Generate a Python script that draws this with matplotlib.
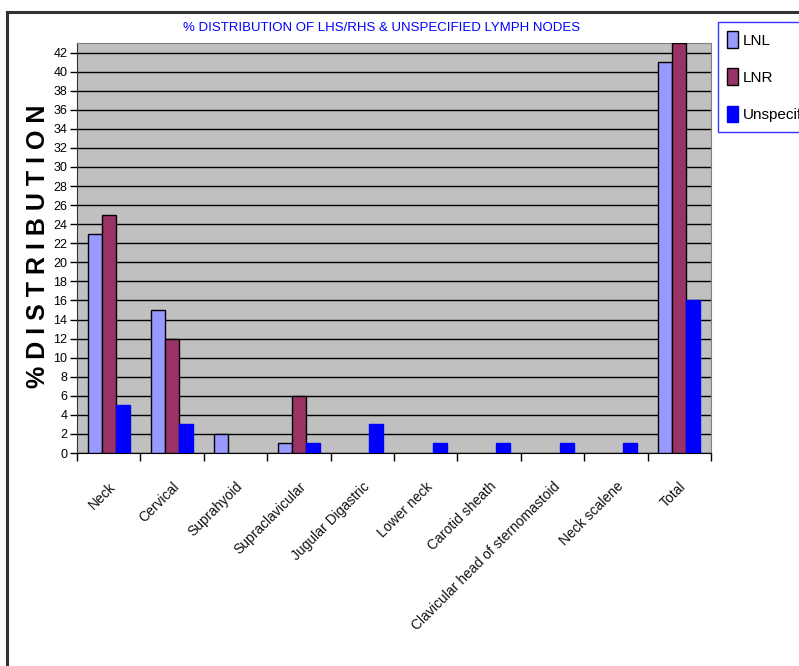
import matplotlib
matplotlib.use("Agg")
import matplotlib.pyplot as plt
import numpy as np
from matplotlib.patches import Rectangle

categories = ["Neck", "Cervical", "Suprahyoid", "Supraclavicular", "Jugular Digastric",
              "Lower neck", "Carotid sheath", "Clavicular head of sternomastoid",
              "Neck scalene", "Total"]
lnl = [23, 15, 2, 1, 0, 0, 0, 0, 0, 41]
lnr = [25, 12, 0, 6, 0, 0, 0, 0, 0, 43]
unspecified = [5, 3, 0, 1, 3, 1, 1, 1, 1, 16]
series_names = ["LNL", "LNR", "Unspecified"]
yticks = list(range(0, 43, 2))

narrow = ["Liberation Sans Narrow", "Liberation Sans", "DejaVu Sans"]

fig = plt.figure(figsize=(7.99, 6.66), dpi=100)
W, H = 799, 666

# outer chart border
fig.patches.append(Rectangle((7 / W, -0.1), 1.2, (666 - 12) / H + 0.1,
                             transform=fig.transFigure, fill=False,
                             edgecolor="#333333", linewidth=2.2))

ax = fig.add_axes([77 / W, (H - 453) / H, (711 - 77) / W, (453 - 43) / H])
ax.set_facecolor("#C0C0C0")

x = np.arange(len(categories))
bw = 0.222
colors = ["#9999FF", "#993366", "#0000FF"]
edges = ["black", "black", "#0000FF"]
for i, (vals, c, e) in enumerate(zip([lnl, lnr, unspecified], colors, edges)):
    lw = [1.0 if v > 0 else 0.0 for v in vals]
    ax.bar(x + (i - 1) * bw, vals, width=bw, color=c, edgecolor=e,
           linewidth=lw, zorder=3, label=series_names[i])

ax.set_xlim(-0.5, len(categories) - 0.5)
ax.set_ylim(0, 43)
ax.set_yticks(yticks)
ax.set_yticklabels([str(t) for t in yticks], family=narrow, fontsize=9)
ax.yaxis.grid(True, color="black", linewidth=1.0, zorder=1)
ax.set_axisbelow(True)
ax.tick_params(axis="y", direction="out", length=5, width=1, pad=2)

ax.set_xticks(np.arange(len(categories) + 1) - 0.5, minor=False)
ax.set_xticklabels([])
ax.tick_params(axis="x", direction="out", length=6, width=1)
for xi, lab in zip(x, categories):
    ax.annotate(lab, xy=(xi, 0), xycoords=("data", "axes fraction"),
                xytext=(0, -19), textcoords="offset points",
                rotation=45, ha="right", va="top", rotation_mode="anchor",
                family=narrow, fontsize=10, color="#111111")

for side in ["top", "right"]:
    ax.spines[side].set_color("#808080")
ax.spines["left"].set_color("#333333")
ax.spines["bottom"].set_color("black")

fig.text(382 / W, 1 - 28 / H, "% DISTRIBUTION OF LHS/RHS & UNSPECIFIED LYMPH NODES",
         ha="center", va="center", color="#0000FF", family=narrow, fontsize=9.5)

fig.text(38 / W, 1 - 246 / H, "% D I S T R I B U T I O N", rotation=90,
         ha="center", va="center", fontsize=18, fontweight="bold", color="black",
         family=["Liberation Sans", "DejaVu Sans"])

leg = fig.legend(loc="upper left", bbox_to_anchor=(718 / W, 1 - 22 / H),
                 bbox_transform=fig.transFigure, frameon=True, fancybox=False,
                 prop={"family": narrow, "size": 11}, handlelength=0.7,
                 handleheight=1.3, labelspacing=1.35, handletextpad=0.3,
                 borderpad=0.6, borderaxespad=0)
leg.get_frame().set_edgecolor("#0000FF")
leg.get_frame().set_linewidth(1.0)

fig.savefig("out.png", dpi=100)
